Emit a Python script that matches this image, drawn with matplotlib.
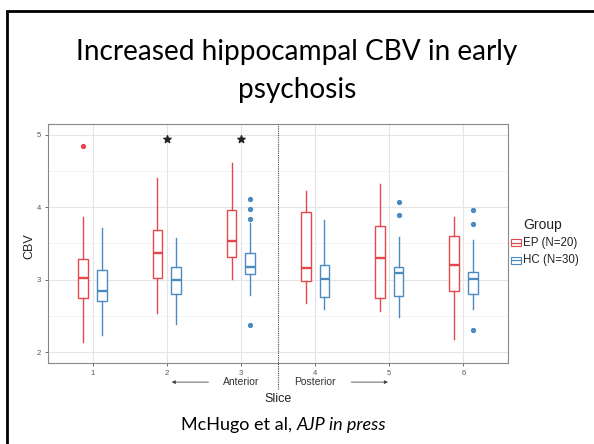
import matplotlib
matplotlib.use("Agg")
import matplotlib.pyplot as plt
from matplotlib.patches import Rectangle
import matplotlib.transforms as mtransforms

plt.rcParams["font.family"] = ["Liberation Sans", "DejaVu Sans"]

slices = [1, 2, 3, 4, 5, 6]

# per-slice box stats: whisker low, q1, median, q3, whisker high
ep_low = [2.14, 2.54, 3.01, 2.68, 2.57, 2.18]
ep_q1 = [2.75, 3.03, 3.31, 2.98, 2.75, 2.85]
ep_med = [3.03, 3.37, 3.54, 3.16, 3.30, 3.20]
ep_q3 = [3.29, 3.69, 3.96, 3.94, 3.74, 3.61]
ep_high = [3.87, 4.40, 4.61, 4.22, 4.32, 3.86]
ep_out = [[4.84], [], [], [], [], []]

hc_low = [2.23, 2.39, 2.79, 2.60, 2.48, 2.59]
hc_q1 = [2.71, 2.80, 3.08, 2.76, 2.77, 2.80]
hc_med = [2.84, 2.99, 3.18, 3.01, 3.09, 3.01]
hc_q3 = [3.13, 3.17, 3.37, 3.21, 3.18, 3.11]
hc_high = [3.71, 3.58, 3.78, 3.83, 3.59, 3.55]
hc_out = [[], [], [4.11, 3.97, 3.84, 2.38], [], [4.07, 3.90], [3.96, 3.77, 2.31]]

sig_slices = [2, 3]
sig_y = [4.94, 4.94]

groups = ["EP (N=20)", "HC (N=30)"]
ep_col = "#E5484B"
hc_col = "#4B8BC2"

fig = plt.figure(figsize=(5.94, 4.44), dpi=100)
fig.patch.set_facecolor("white")

# slide frame
fig.patches.append(Rectangle((7 / 594, -0.05), 1.0, 1 - 11 / 444 + 0.05,
                             transform=fig.transFigure, fill=False,
                             edgecolor="black", linewidth=2))

fig.text(0.5, 1 - 52 / 444, "Increased hippocampal CBV in early",
         ha="center", va="center", fontsize=20.2, family="Lato")
fig.text(0.5, 1 - 90 / 444, "psychosis",
         ha="center", va="center", fontsize=20.2, family="Lato")

fig.text(0.5, 1 - 425 / 444, "McHugo et al, ", ha="right", va="center",
         fontsize=13, family="Lato")
fig.text(0.5, 1 - 425 / 444, "AJP in press", ha="left", va="center",
         fontsize=13, family="Lato", style="italic")

ax = fig.add_axes([48 / 594, 81 / 444, 460 / 594, 239 / 444])


def stats(low, q1, med, q3, high, out):
    return [dict(whislo=a, q1=b, med=c, q3=d, whishi=e, fliers=f)
            for a, b, c, d, e, f in zip(low, q1, med, q3, high, out)]


def draw(st, pos, col):
    ax.bxp(st, positions=pos, widths=0.13, showcaps=False, patch_artist=True,
           boxprops=dict(facecolor="white", edgecolor=col, linewidth=1.0),
           whiskerprops=dict(color=col, linewidth=1.0),
           medianprops=dict(color=col, linewidth=1.7),
           flierprops=dict(marker="o", markerfacecolor=col, markeredgecolor=col,
                           markersize=2.8), zorder=3)


draw(stats(ep_low, ep_q1, ep_med, ep_q3, ep_high, ep_out),
     [s - 0.125 for s in slices], ep_col)
draw(stats(hc_low, hc_q1, hc_med, hc_q3, hc_high, hc_out),
     [s + 0.125 for s in slices], hc_col)

ax.scatter(sig_slices, sig_y, marker="*", s=30, color="#222222", zorder=4)

ax.set_xlim(0.4, 6.6)
ax.set_ylim(1.85, 5.15)
ax.set_xticks(slices)
ax.set_xticklabels([str(s) for s in slices])
ax.set_yticks([2, 3, 4, 5])
ax.set_yticks([2.5, 3.5, 4.5], minor=True)
ax.grid(True, which="major", color="#E4E4E4", linewidth=0.8, zorder=0)
ax.grid(True, which="minor", axis="y", color="#F2F2F2", linewidth=0.6, zorder=0)
ax.set_axisbelow(True)
ax.tick_params(axis="both", which="major", labelsize=5.5, labelcolor="#555555",
               color="#555555", length=2.5, width=0.6, pad=2.5)
ax.tick_params(which="minor", length=0)
for sp in ax.spines.values():
    sp.set_color("#888888")
    sp.set_linewidth(0.8)

# divider between anterior and posterior slices
trans = mtransforms.blended_transform_factory(ax.transData, ax.transAxes)
ax.plot([3.5, 3.5], [-0.11, 1.0], transform=trans, color="#444444",
        linestyle=(0, (1, 1)), linewidth=0.8, clip_on=False, zorder=5)

ty = -0.08
ax.text(3.0, ty, "Anterior", transform=trans, ha="center", va="center",
        fontsize=7.5, color="#333333")
ax.annotate("", xy=(2.03, ty), xytext=(2.6, ty), xycoords=trans,
            textcoords=trans, arrowprops=dict(arrowstyle="-|>", color="#444444",
                                              lw=0.6, mutation_scale=5))
ax.text(4.0, ty, "Posterior", transform=trans, ha="center", va="center",
        fontsize=7.5, color="#333333")
ax.annotate("", xy=(5.02, ty), xytext=(4.45, ty), xycoords=trans,
            textcoords=trans, arrowprops=dict(arrowstyle="-|>", color="#444444",
                                              lw=0.6, mutation_scale=5))

ax.text(0.5, -0.15, "Slice", transform=ax.transAxes, ha="center", va="center",
        fontsize=9, color="#222222")
ax.text(-0.04, 0.49, "CBV", transform=ax.transAxes, ha="center", va="center",
        rotation=90, fontsize=9, color="#222222")

# legend
fig.text(523 / 594, 1 - 225 / 444, "Group", ha="left", va="center",
         fontsize=10, color="#222222")
for i, (lab, col) in enumerate(zip(groups, [ep_col, hc_col])):
    yc = 1 - (243 + 17 * i) / 444
    fig.patches.append(Rectangle((511 / 594, yc - 3.5 / 444), 10 / 594, 7 / 444,
                                 transform=fig.transFigure, fill=False,
                                 edgecolor=col, linewidth=0.8))
    fig.lines.append(plt.Line2D([511 / 594, 521 / 594], [yc, yc],
                                transform=fig.transFigure, color=col, lw=0.9))
    fig.text(523 / 594, yc, lab, ha="left", va="center", fontsize=8.3,
             color="#222222")

fig.savefig("out.png", dpi=100)
